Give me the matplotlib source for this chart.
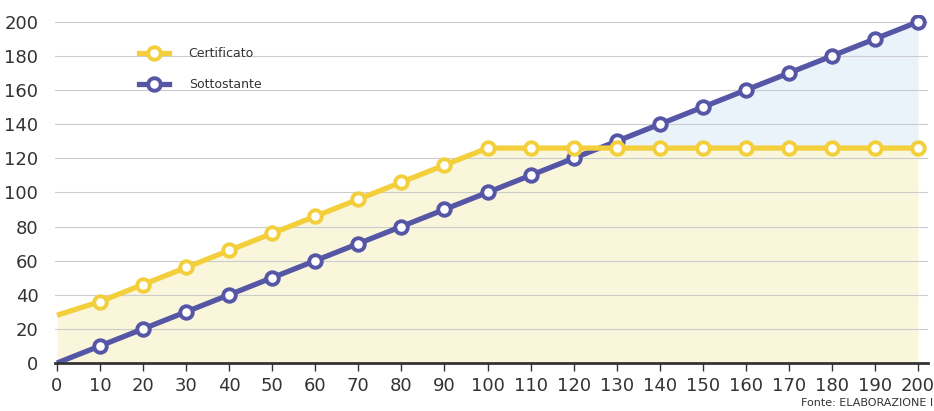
import matplotlib
matplotlib.use("Agg")
import matplotlib.pyplot as plt
import numpy as np
from matplotlib.lines import Line2D

x_vals = [0, 10, 20, 30, 40, 50, 60, 70, 80, 90, 100, 110, 120, 130, 140, 150, 160, 170, 180, 190, 200]
certificato = [28, 36, 46, 56, 66, 76, 86, 96, 106, 116, 126, 126, 126, 126, 126, 126, 126, 126, 126, 126, 126]
sottostante = [0, 10, 20, 30, 40, 50, 60, 70, 80, 90, 100, 110, 120, 130, 140, 150, 160, 170, 180, 190, 200]
y_ticks = [0, 20, 40, 60, 80, 100, 120, 140, 160, 180, 200]
x_ticks = list(range(0, 201, 10))

yellow = "#f3cf3c"
blue = "#5656a6"

fig = plt.figure(figsize=(9.34, 4.11), dpi=100)
ax = fig.add_axes([55/934, 1 - 363/411, (928-55)/934, (363-15)/411])

x = np.array(x_vals, float)
c = np.array(certificato, float)
s = np.array(sottostante, float)
xf = np.linspace(0, 200, 2001)
cf = np.interp(xf, x, c)
sf = np.interp(xf, x, s)
ax.fill_between(xf, 0, cf, color="#f9f6dc", zorder=1, lw=0)
ax.fill_between(xf, cf, sf, where=sf > cf, color="#ebf3fa", zorder=1, lw=0)

for yt in y_ticks[1:]:
    ax.axhline(yt, color="#cccccc", lw=0.8, zorder=2)

lw = 3.8
ms = 9
mew = 2.8
ax.plot(x, s, color=blue, lw=lw, zorder=3, solid_capstyle="butt")
ax.plot(x[1:], s[1:], ls="none", marker="o", ms=ms, mfc="white", mec=blue, mew=mew, zorder=4)
ax.plot(x, c, color=yellow, lw=lw, zorder=5, solid_capstyle="butt")
ax.plot(x[1:], c[1:], ls="none", marker="o", ms=ms, mfc="white", mec=yellow, mew=mew, zorder=6)

ax.set_xlim(-0.46, 202.3)
ax.set_ylim(0, 204)
for sp in ["top", "right", "left"]:
    ax.spines[sp].set_visible(False)
ax.spines["bottom"].set_color("#333333")
ax.spines["bottom"].set_linewidth(2)
ax.spines["bottom"].set_zorder(7)
ax.set_xticks(x_ticks)
ax.set_yticks(y_ticks)
ax.tick_params(axis="x", direction="out", length=6, width=1, color="#333333", labelsize=13, labelcolor="#333333", pad=4)
ax.tick_params(axis="y", length=0, labelsize=13, labelcolor="#333333", pad=12)

h1 = Line2D([], [], color=yellow, lw=lw, marker="o", ms=ms, mfc="white", mec=yellow, mew=mew)
h2 = Line2D([], [], color=blue, lw=lw, marker="o", ms=ms, mfc="white", mec=blue, mew=mew)
ax.legend([h1, h2], ["Certificato", "Sottostante"], loc="upper left", bbox_to_anchor=(0.083, 0.94),
          frameon=False, fontsize=9, handlelength=2.4, labelspacing=1.45, handletextpad=1.6,
          labelcolor="#333333")

fig.text(0.999, 0.008, "Fonte: ELABORAZIONE I", ha="right", va="bottom", fontsize=8, color="#333333")

fig.savefig("out.png", dpi=100)
